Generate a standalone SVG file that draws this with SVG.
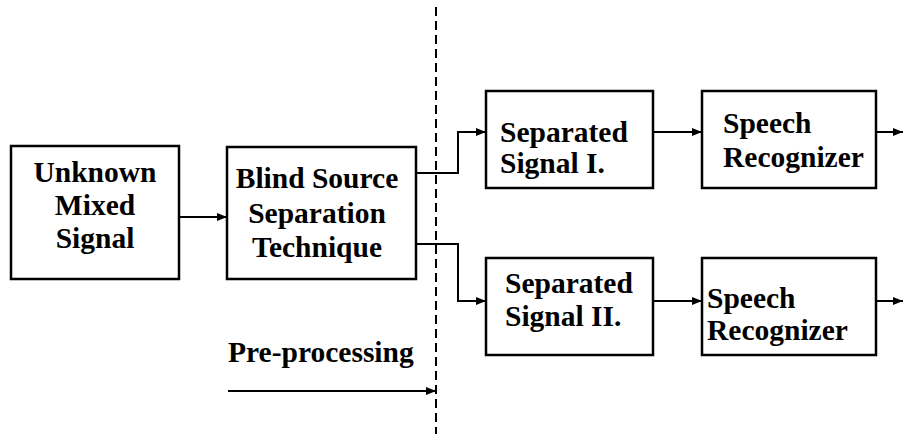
<svg xmlns="http://www.w3.org/2000/svg" width="903" height="434" viewBox="0 0 903 434">
<style>
.box{fill:#fff;stroke:#000;stroke-width:2.5}
.ln{fill:none;stroke:#000;stroke-width:2}
.t{font-family:"Liberation Serif","Times New Roman",serif;font-weight:bold;font-size:29.5px;fill:#000}
.c{text-anchor:middle}
</style>
<defs>
<marker id="ah" markerWidth="10" markerHeight="8" refX="10" refY="4" orient="auto" markerUnits="userSpaceOnUse">
<path d="M0,0 L10,4 L0,8 Z" fill="#000"/>
</marker>
</defs>
<g id="connectors">
<line class="ln" x1="436" y1="7" x2="436" y2="434" stroke-dasharray="9,5"/>
<line class="ln" x1="179" y1="217" x2="227" y2="217" marker-end="url(#ah)"/>
<polyline class="ln" points="416,173 458,173 458,132 486,132" marker-end="url(#ah)"/>
<polyline class="ln" points="416,244 458,244 458,301 486,301" marker-end="url(#ah)"/>
<line class="ln" x1="653" y1="132" x2="702" y2="132" marker-end="url(#ah)"/>
<line class="ln" x1="653" y1="301" x2="702" y2="301" marker-end="url(#ah)"/>
<line class="ln" x1="876" y1="132" x2="903" y2="132" marker-end="url(#ah)"/>
<line class="ln" x1="876" y1="301" x2="903" y2="301" marker-end="url(#ah)"/>
<line class="ln" x1="228" y1="391" x2="436" y2="391" marker-end="url(#ah)"/>
</g>
<g id="n1">
<rect class="box" x="11" y="146" width="168" height="133"/>
<text class="t c" x="95" y="182">Unknown</text>
<text class="t c" x="95" y="215">Mixed</text>
<text class="t c" x="95" y="248">Signal</text>
</g>
<g id="n2">
<rect class="box" x="227" y="147" width="189" height="132"/>
<text class="t c" x="317" y="188">Blind Source</text>
<text class="t c" x="317" y="223">Separation</text>
<text class="t c" x="317" y="257">Technique</text>
</g>
<g id="n3">
<rect class="box" x="486" y="91" width="167" height="97"/>
<text class="t" x="500" y="142">Separated</text>
<text class="t" x="500" y="173">Signal I.</text>
</g>
<g id="n4">
<rect class="box" x="702" y="91" width="174" height="97"/>
<text class="t" x="723" y="133">Speech</text>
<text class="t" x="723" y="167">Recognizer</text>
</g>
<g id="n5">
<rect class="box" x="486" y="258" width="167" height="97"/>
<text class="t" x="505" y="293">Separated</text>
<text class="t" x="505" y="326">Signal II.</text>
</g>
<g id="n6">
<rect class="box" x="702" y="258" width="174" height="97"/>
<text class="t" x="707" y="308">Speech</text>
<text class="t" x="707" y="340">Recognizer</text>
</g>
<g id="label">
<text class="t" x="228" y="362">Pre-processing</text>
</g>
</svg>
